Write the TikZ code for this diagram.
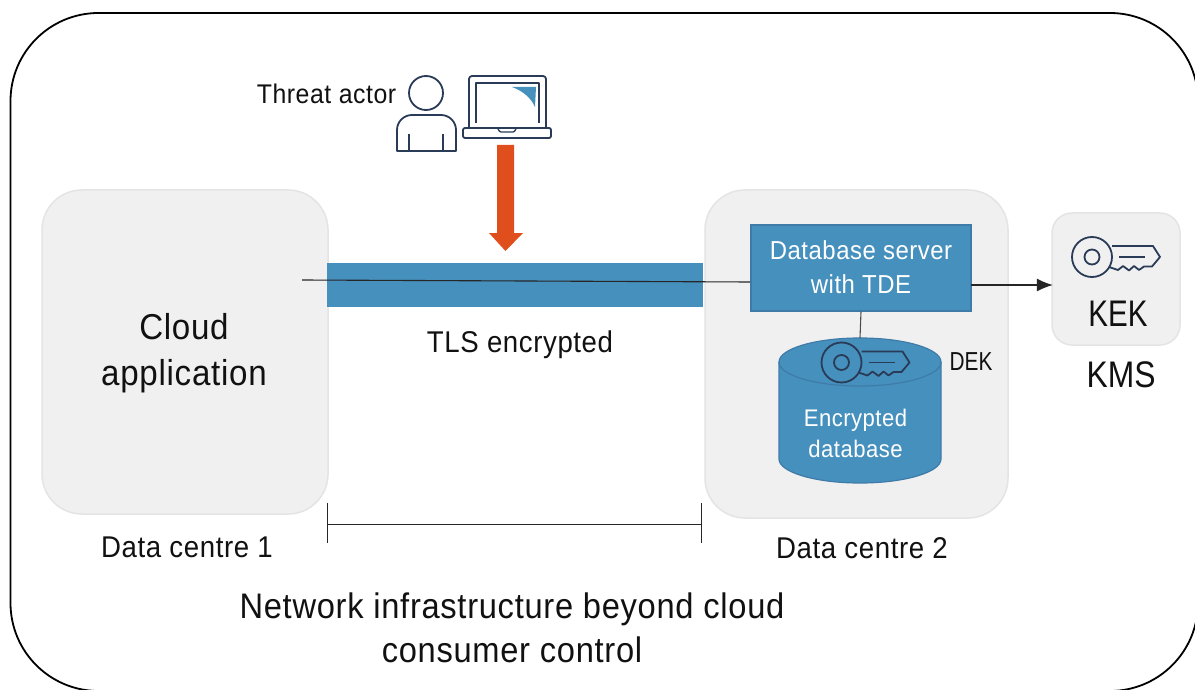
\documentclass[tikz,border=0pt]{standalone}
\usepackage{fontspec}
\usetikzlibrary{arrows.meta}
\setmainfont{Liberation Sans}[FakeStretch=0.92,LetterSpace=2]
\newfontfamily\capsnarrow{Liberation Sans}[FakeStretch=0.8]
\newfontfamily\capsmid{Liberation Sans}[FakeStretch=0.86]
\definecolor{panel}{HTML}{F0F0F0}
\definecolor{panelline}{HTML}{E4E4E4}
\definecolor{barblue}{HTML}{4690BE}
\definecolor{edgeblue}{HTML}{3F7BA8}
\definecolor{iconnavy}{HTML}{2A3B57}
\definecolor{redarrow}{HTML}{E04E1E}
\definecolor{txt}{HTML}{111111}
\tikzset{
 x=1pt,y=-1pt,
 panelbox/.style={draw=panelline,fill=panel,line width=1.5pt},
 txtlabel/.style={text=txt,inner sep=0pt,align=center},
 whitelabel/.style={text=white,inner sep=0pt,align=center},
 icon/.style={draw=iconnavy,line width=1.8pt,line join=round},
 conn/.style={draw=black!85,line width=1.1pt},
 keyicon/.pic={
  \draw[icon] (0,0) circle[radius=20];
  \draw[icon] (0,0) circle[radius=7.5];
  \draw[icon] (20,-11) -- (61,-11) -- (68,0) -- (60,9.5) -- (52,9.5) -- (47,13) -- (42,9) -- (37,13.5) -- (31,9) -- (26,13) -- (17,10);
  \draw[icon] (27,0) -- (53,0);
 },
 fs/.style={font=\fontsize{#1}{#1}\selectfont}
}
\begin{document}
\begin{tikzpicture}
\useasboundingbox (0,0) rectangle (1195,690);
\clip (0,0) rectangle (1195,690);
\fill[white] (0,0) rectangle (1195,690);
\draw[black,line width=1.8pt,rounded corners=88] (10.5,13) rectangle (1198,691);

\draw[panelbox,rounded corners=40] (42,190) rectangle (328,514);
\draw[panelbox,rounded corners=40] (705,190) rectangle (1008,518);
\draw[panelbox,rounded corners=20] (1052,213) rectangle (1180,345);

\fill[barblue] (327,263) rectangle (703,307);

% threat actor
\node[txtlabel,fs=27] (threat) at (326.5,93.5) {Threat actor};
\draw[icon] (426,93) circle[radius=17];
\draw[icon] (397,151) -- (397,130) arc[start angle=180,end angle=270,radius=15] -- (441,115) arc[start angle=270,end angle=360,radius=15] -- (456,151) -- cycle;
\draw[icon] (409,134) -- (409,151) (443,134) -- (443,151);
\draw[icon,rounded corners=3] (469,128) -- (469,76) -- (546,76) -- (546,128);
\draw[icon] (476,123) -- (476,83) -- (539,83) -- (539,123);
\draw[icon,rounded corners=2] (463,128) rectangle (551,138);
\draw[icon,line width=1.3pt,rounded corners=1] (498,129) -- (500,132) -- (514,132) -- (516,129);
\fill[barblue] (512,87) -- (536,87) -- (535,107) .. controls (531,98) and (523,91) .. cycle;

% red arrow
\coordinate (arrowtip) at (505.5,251);
\fill[redarrow] (497,145) -- (514,145) -- (514,233) -- (523,233) -- (arrowtip) -- (489,233) -- (497,233) -- cycle;

% server
\node[draw=edgeblue,fill=barblue,line width=1.2pt,minimum width=220pt,minimum height=86pt,inner sep=0pt] (server) at (861,268) {};
\node[whitelabel,fs=26] (serverlabel) at (861,267.5) {Database server\\[8pt]with TDE};

% cylinder
\node[inner sep=0pt,minimum size=0pt] (dbtop) at (860,338) {};
\draw[edgeblue,fill=barblue,line width=1.2pt] (779,362) -- (779,459) arc[start angle=180,end angle=0,x radius=81,y radius=24] -- (941,362) arc[start angle=0,end angle=-180,x radius=81,y radius=24] -- cycle;
\draw[edgeblue,line width=1.2pt] (779,362) arc[start angle=180,end angle=0,x radius=81,y radius=24];
\node[whitelabel,fs=24] (dblabel) at (855.5,433) {Encrypted\\[7pt]database};

% connectors
\coordinate (linestart) at (302,280);
\coordinate (lineend) at (750,282);
\coordinate (serverout) at (971,285);
\node[inner sep=0pt,minimum size=0pt] (kmsedge) at (1053,285) {};
\draw[conn] (linestart) -- (lineend);
\draw[conn,-{Latex[length=16pt,width=13pt]}] (serverout) -- (kmsedge);
\draw[conn,draw=black!70] (server.south) -- (dbtop);

\pic at (841.5,362.5) {keyicon};
\pic at (1092,257) {keyicon};

\node[txtlabel,font=\capsnarrow\fontsize{26}{26}\selectfont] (dek) at (971,362) {DEK};
\node[txtlabel,font=\capsnarrow\fontsize{37}{37}\selectfont] (kek) at (1118,314) {KEK};
\node[txtlabel,font=\capsmid\fontsize{37}{37}\selectfont] (kms) at (1121,375) {KMS};

\node[txtlabel,fs=36] (cloud) at (184,353) {Cloud\\[10pt]application};
\node[txtlabel,fs=30] (tls) at (520,345) {TLS encrypted};
\node[txtlabel,fs=30] (dc1) at (187,547) {Data centre 1};
\node[txtlabel,fs=30] (dc2) at (862,548) {Data centre 2};
\node[txtlabel,fs=35.5] (net) at (512,628) {Network infrastructure beyond cloud\\[9pt]consumer control};

% bracket
\coordinate (bl) at (327.5,524);
\coordinate (br) at (701,524);
\draw[conn,line width=1pt] (bl) -- (br);
\draw[conn,line width=1pt] (327.5,503) -- (327.5,543);
\draw[conn,line width=1pt] (701,503) -- (701,543);
\end{tikzpicture}
\end{document}
